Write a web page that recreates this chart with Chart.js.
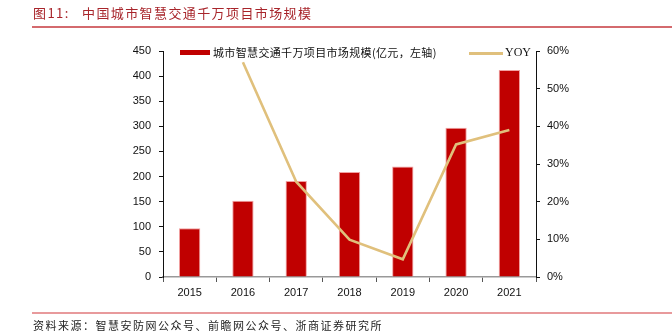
<!DOCTYPE html>
<html><head><meta charset="utf-8">
<script src="https://cdn.jsdelivr.net/npm/chart.js@4"></script>
<style>
html,body{margin:0;padding:0;background:#fff}
body{width:672px;height:335px;overflow:hidden;position:relative;font-family:"Noto Sans CJK SC",sans-serif}
#c{position:absolute;left:0;top:0}
.title{position:absolute;top:4px;font-size:13px;color:#a8252b;letter-spacing:1.4px;white-space:nowrap;line-height:18px}
#tline{position:absolute;left:32px;right:0;top:26px;height:2px;background:#d46a6e}
#fline{position:absolute;left:32px;right:0;top:312px;height:2px;background:#e89a9c}
#src{position:absolute;left:33px;top:317px;font-size:11px;color:#222;letter-spacing:1.5px;white-space:nowrap;line-height:16px}
.lg{position:absolute;font-size:11px;color:#111;white-space:nowrap;line-height:14px;background:#fff}
</style></head>
<body>
<canvas id="c" width="672" height="335"></canvas>
<div class="title" style="left:33px">图11:</div>
<div class="title" style="left:82px">中国城市智慧交通千万项目市场规模</div>
<div id="tline"></div>
<div id="fline"></div>
<div id="src">资料来源：智慧安防网公众号、前瞻网公众号、浙商证券研究所</div>
<div id="leg"></div>
<script>
const categories = ["2015","2016","2017","2018","2019","2020","2021"];
const marketSize = [97, 152, 191, 209, 220, 297, 412];
const yoy = [null, 0.57, 0.253, 0.099, 0.047, 0.352, 0.39];
const barLabel = "城市智慧交通千万项目市场规模(亿元，左轴)";
const lineLabel = "YOY";

const barColor = "#c00000";
const lineColor = "#e0c07c";

const leg = document.getElementById('leg');
leg.innerHTML =
  '<div style="position:absolute;left:180px;top:50px;width:30px;height:5px;background:'+barColor+'"></div>'+
  '<div class="lg" style="left:213px;top:45px;letter-spacing:0.35px">'+barLabel+'</div>'+
  '<div style="position:absolute;left:469px;top:52px;width:34px;height:3px;background:'+lineColor+'"></div>'+
  '<div class="lg" style="left:505px;top:45px;font-family:\'Liberation Serif\',serif;font-size:12px;background:transparent">'+lineLabel+'</div>';

const tickFont = {family: "'Liberation Sans', Arial, sans-serif", size: 11};

new Chart(document.getElementById('c'), {
  data: {
    labels: categories,
    datasets: [
      {type:'line', label: lineLabel, data: yoy, yAxisID:'y1', borderColor: lineColor, borderWidth: 2.6,
       pointRadius:0, tension:0, fill:false, order:0, spanGaps:false},
      {type:'bar', label: barLabel, data: marketSize, yAxisID:'y', backgroundColor: barColor,
       borderColor:'rgba(240,150,150,0.9)', borderWidth:1, barPercentage:0.4, categoryPercentage:1.0, order:1}
    ]
  },
  options: {
    responsive:false, animation:false, devicePixelRatio:1,
    layout:{padding:{top:51,left:0,right:0,bottom:0}},
    plugins:{legend:{display:false}, tooltip:{enabled:false}, title:{display:false}},
    scales:{
      x:{
        offset:true,
        grid:{display:true, drawOnChartArea:false, drawTicks:true, tickLength:5, color:'#555', offset:true},
        border:{display:true, color:'#999', width:1.5},
        ticks:{font:tickFont, color:'#111', padding:4, maxRotation:0},
        afterFit:(s)=>{s.height = 58;}
      },
      y:{
        position:'left', min:0, max:450,
        grid:{display:true, drawOnChartArea:false, tickLength:4, color:'#111'},
        border:{display:true, color:'#111', width:1},
        ticks:{stepSize:50, font:tickFont, color:'#111', padding:8},
        afterFit:(s)=>{s.width = 163;}
      },
      y1:{
        position:'right', min:0, max:0.6,
        grid:{display:true, drawOnChartArea:false, tickLength:4, color:'#111'},
        border:{display:true, color:'#111', width:1},
        ticks:{stepSize:0.1, font:tickFont, color:'#111', padding:7,
               callback:(v)=>Math.round(v*100)+'%'},
        afterFit:(s)=>{s.width = 136;}
      }
    }
  }
});
</script>
</body></html>
